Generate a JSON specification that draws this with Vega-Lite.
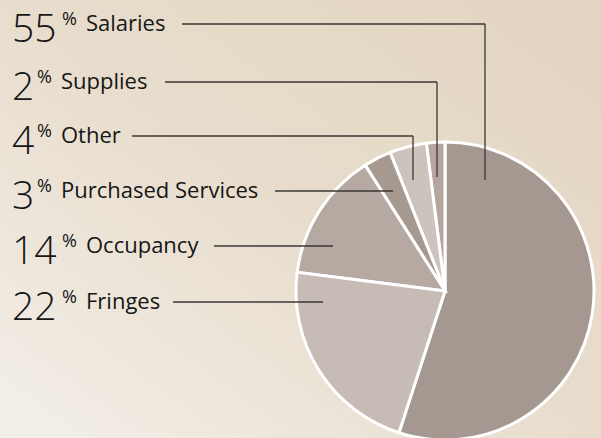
{
  "$schema": "https://vega.github.io/schema/vega-lite/v6.json",
  "width": 601,
  "height": 438,
  "autosize": {"type": "none"},
  "padding": 0,
  "background": "#ebe2d5",
  "config": {
    "view": {
      "stroke": null,
      "fill": {
        "gradient": "linear",
        "x1": 1, "y1": 0, "x2": 0, "y2": 1,
        "stops": [
          {"offset": 0, "color": "#e2d4c0"},
          {"offset": 0.5, "color": "#e8ddcd"},
          {"offset": 1, "color": "#f3efe9"}
        ]
      }
    },
    "text": {"font": "Open Sans", "color": "#161616"}
  },
  "data": {
    "values": [
      {"category": "Salaries", "pct": 55, "pieOrder": 1, "ly": 24, "x0": 182, "x1": 485, "y1": 180},
      {"category": "Supplies", "pct": 2, "pieOrder": 6, "ly": 82, "x0": 165, "x1": 437, "y1": 177},
      {"category": "Other", "pct": 4, "pieOrder": 5, "ly": 136, "x0": 132, "x1": 413, "y1": 180},
      {"category": "Purchased Services", "pct": 3, "pieOrder": 4, "ly": 191, "x0": 275, "x1": 393, "y1": 191},
      {"category": "Occupancy", "pct": 14, "pieOrder": 3, "ly": 246, "x0": 214, "x1": 333, "y1": 246},
      {"category": "Fringes", "pct": 22, "pieOrder": 2, "ly": 302, "x0": 173, "x1": 323, "y1": 302}
    ]
  },
  "resolve": {"scale": {"x": "shared", "y": "shared"}},
  "layer": [
    {
      "mark": {"type": "arc", "radius": 149, "stroke": "#ffffff", "strokeWidth": 3},
      "encoding": {
        "x": {"datum": 445, "type": "quantitative", "scale": {"domain": [0, 601], "nice": false, "zero": false}, "axis": null},
        "y": {"datum": 291, "type": "quantitative", "scale": {"domain": [0, 438], "nice": false, "zero": false, "reverse": true}, "axis": null},
        "theta": {"field": "pct", "type": "quantitative", "stack": true},
        "order": {"field": "pieOrder", "type": "quantitative"},
        "color": {
          "field": "category", "type": "nominal", "legend": null,
          "scale": {
            "domain": ["Salaries", "Fringes", "Occupancy", "Purchased Services", "Other", "Supplies"],
            "range": ["#a59890", "#c6bbb5", "#b6a9a2", "#a69990", "#cdc3bd", "#b4a69f"]
          }
        }
      }
    },
    {
      "mark": {"type": "rule", "color": "#3a3735", "strokeWidth": 1.3},
      "encoding": {
        "x": {"field": "x0", "type": "quantitative"},
        "x2": {"field": "x1"},
        "y": {"field": "ly", "type": "quantitative"}
      }
    },
    {
      "mark": {"type": "rule", "color": "#3a3735", "strokeWidth": 1.3},
      "encoding": {
        "x": {"field": "x1", "type": "quantitative"},
        "y": {"field": "ly", "type": "quantitative"},
        "y2": {"field": "y1"}
      }
    },
    {
      "mark": {"type": "text", "align": "left", "baseline": "alphabetic", "fontSize": 39, "fontWeight": 300, "dy": 18},
      "encoding": {
        "x": {"datum": 12, "type": "quantitative"},
        "y": {"field": "ly", "type": "quantitative"},
        "text": {"field": "pct", "type": "quantitative"}
      }
    },
    {
      "transform": [{"filter": "datum.pct >= 10"}],
      "layer": [
        {
          "mark": {"type": "text", "align": "left", "baseline": "alphabetic", "fontSize": 18, "dy": 1},
          "encoding": {
            "x": {"datum": 62, "type": "quantitative"},
            "y": {"field": "ly", "type": "quantitative"},
            "text": {"value": "%"}
          }
        },
        {
          "mark": {"type": "text", "align": "left", "baseline": "alphabetic", "fontSize": 22, "dy": 7},
          "encoding": {
            "x": {"datum": 86, "type": "quantitative"},
            "y": {"field": "ly", "type": "quantitative"},
            "text": {"field": "category", "type": "nominal"}
          }
        }
      ]
    },
    {
      "transform": [{"filter": "datum.pct < 10"}],
      "layer": [
        {
          "mark": {"type": "text", "align": "left", "baseline": "alphabetic", "fontSize": 18, "dy": 1},
          "encoding": {
            "x": {"datum": 37, "type": "quantitative"},
            "y": {"field": "ly", "type": "quantitative"},
            "text": {"value": "%"}
          }
        },
        {
          "mark": {"type": "text", "align": "left", "baseline": "alphabetic", "fontSize": 22, "dy": 7},
          "encoding": {
            "x": {"datum": 61, "type": "quantitative"},
            "y": {"field": "ly", "type": "quantitative"},
            "text": {"field": "category", "type": "nominal"}
          }
        }
      ]
    }
  ]
}
